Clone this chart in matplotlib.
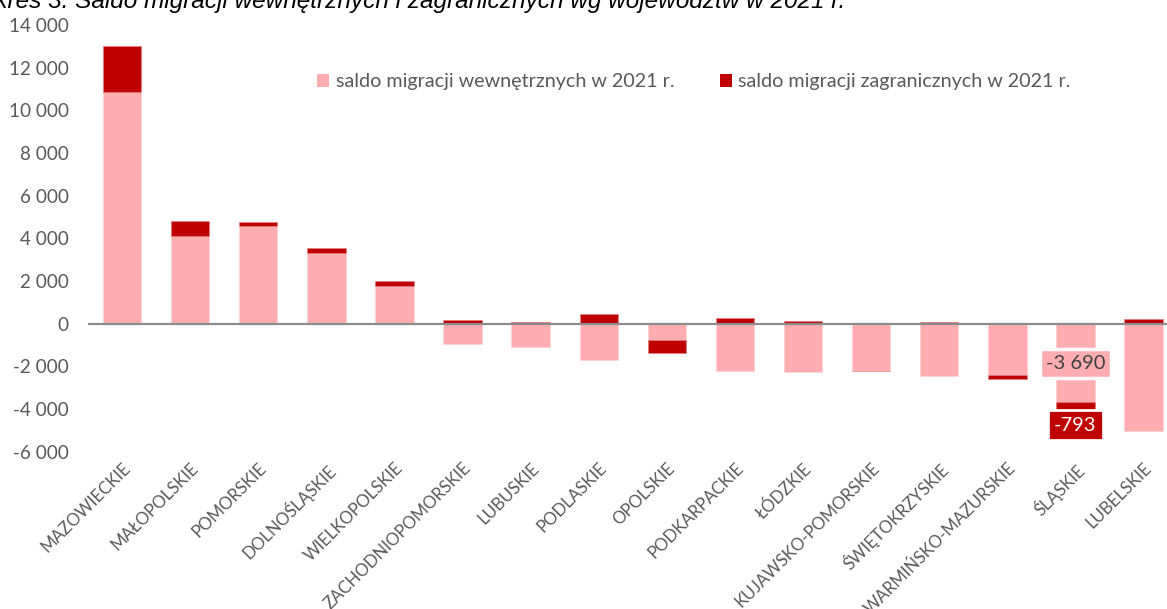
import matplotlib
matplotlib.use("Agg")
import matplotlib.pyplot as plt
from matplotlib.patches import Patch
import numpy as np

regions = ["MAZOWIECKIE", "MAŁOPOLSKIE", "POMORSKIE", "DOLNOŚLĄSKIE", "WIELKOPOLSKIE",
           "ZACHODNIOPOMORSKIE", "LUBUSKIE", "PODLASKIE", "OPOLSKIE", "PODKARPACKIE",
           "ŁÓDZKIE", "KUJAWSKO-POMORSKIE", "ŚWIĘTOKRZYSKIE", "WARMIŃSKO-MAZURSKIE",
           "ŚLĄSKIE", "LUBELSKIE"]
internal = [10850, 4110, 4590, 3300, 1790, -950, -1090, -1680, -760, -2200,
            -2270, -2210, -2430, -2400, -3690, -5030]
foreign = [2180, 700, 175, 260, 220, 185, 90, 450, -625, 250,
           125, -10, 90, -185, -793, 235]
yticks = [-6000, -4000, -2000, 0, 2000, 4000, 6000, 8000, 10000, 12000, 14000]
label_internal = "saldo migracji wewnętrznych w 2021 r."
label_foreign = "saldo migracji zagranicznych w 2021 r."
title = "Wykres 3. Saldo migracji wewnętrznych i zagranicznych wg województw w 2021 r."

PINK = "#FFADB0"
RED = "#C00000"
GRAY = "#595959"
FONT = "Lato"

plt.rcParams["font.family"] = [FONT, "DejaVu Sans"]

fig = plt.figure(figsize=(11.67, 6.09), dpi=100)
ax = fig.add_axes([88 / 1167, 157.3 / 609, 1089.6 / 1167, 426.7 / 609])

x = np.arange(len(regions))
internal_a = np.array(internal, dtype=float)
foreign_a = np.array(foreign, dtype=float)
bottom_f = np.where(np.sign(internal_a) == np.sign(foreign_a), internal_a, 0.0)

w = 0.564
ax.bar(x, internal_a, width=w, color=PINK, edgecolor="#FFD3D5", linewidth=0.6, zorder=2)
ax.bar(x, foreign_a, width=w, bottom=bottom_f, color=RED, edgecolor="#E08080", linewidth=0.4, zorder=2)

ax.axhline(0, color="#8C8C8C", linewidth=1.6, zorder=3)

ax.set_xlim(-0.5, len(regions) - 0.5)
ax.set_ylim(-6000, 14000)
ax.set_yticks(yticks)
ax.set_yticklabels([f"{v:,}".replace(",", " ") for v in yticks], fontsize=13.6, color=GRAY)
ax.set_xticks(x)
ax.set_xticklabels(regions, rotation=45, ha="right", rotation_mode="anchor",
                   fontsize=12.2, color=GRAY)
ax.tick_params(axis="y", length=0, pad=14)
ax.tick_params(axis="x", length=0, pad=6)
for s in ax.spines.values():
    s.set_visible(False)

# data labels for ŚLĄSKIE
i = regions.index("ŚLĄSKIE")
ax.text(i, -1880, f"{internal[i]:,}".replace(",", " "), ha="center", va="center",
        fontsize=14.5, color="#404040", zorder=5,
        bbox=dict(boxstyle="square,pad=0.3", facecolor=PINK, edgecolor="white", linewidth=2.5))
ax.text(i, -4750, f"{foreign[i]}", ha="center", va="center",
        fontsize=14.5, color="white", zorder=5,
        bbox=dict(boxstyle="square,pad=0.3", facecolor=RED, edgecolor="white", linewidth=2))

handles = [Patch(facecolor=PINK, label=label_internal), Patch(facecolor=RED, label=label_foreign)]
leg = fig.legend(handles=handles, loc="center", bbox_to_anchor=(694 / 1167, 1 - 81.7 / 609),
                 ncol=2, frameon=False, fontsize=14.2, handlelength=0.6, handleheight=0.6,
                 handletextpad=0.35, columnspacing=2.3, borderpad=0)
for t in leg.get_texts():
    t.set_color(GRAY)

fig.text(845 / 1167, 1 - 8 / 609, title, ha="right", va="baseline",
         fontsize=17.6, style="italic", family="Liberation Sans", color="black")

fig.savefig("out.png", dpi=100)
